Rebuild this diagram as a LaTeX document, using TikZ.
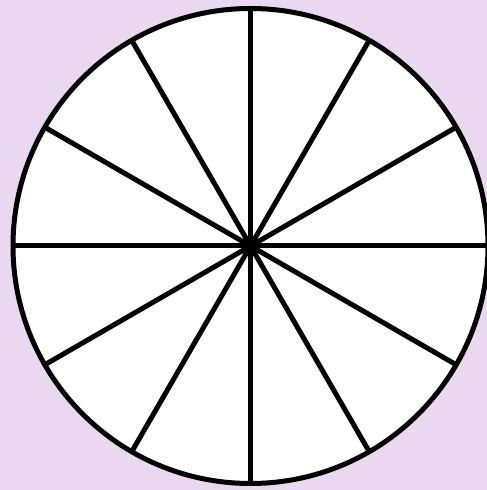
\documentclass[tikz,border=0pt]{standalone}
\usetikzlibrary{calc}
\definecolor{bgpurple}{RGB}{233,216,240}
\begin{document}
\begin{tikzpicture}[x=1pt,y=1pt,
  rim/.style={draw=black,fill=white,line width=5pt},
  spoke/.style={draw=black,line width=5pt}]
\useasboundingbox (0,0) rectangle (487,490);
\fill[bgpurple] (0,0) rectangle (487,490);
\clip (0,0) rectangle (487,490);
\coordinate (c) at (250.5,244);
\path[rim] (c) circle (237.5);
\foreach \a in {0,30,...,150}{
  \coordinate (p\a) at ($(c)+(\a:237.5)$);
  \coordinate (q\a) at ($(c)+(\a+180:237.5)$);
  \draw[spoke] (p\a) -- (q\a);
}
\end{tikzpicture}
\end{document}
